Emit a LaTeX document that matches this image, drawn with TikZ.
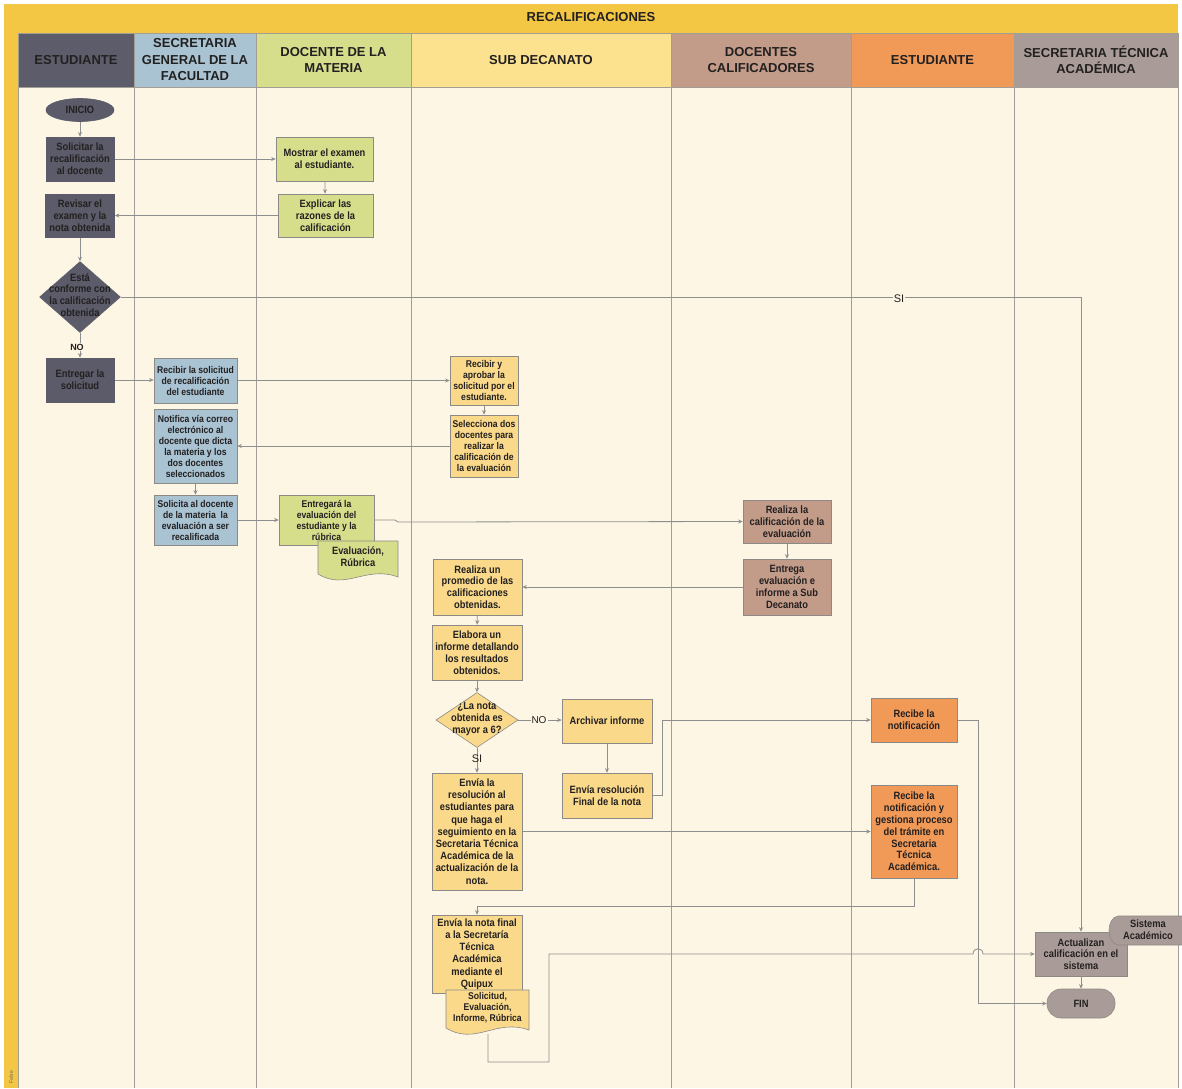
\documentclass[tikz,border=0pt]{standalone}
\usepackage{fontspec}
\setmainfont{Liberation Sans}
\newfontfamily\nfont[FakeStretch=0.88]{Liberation Sans}
\usetikzlibrary{shapes.geometric,arrows.meta,backgrounds}
\definecolor{titleY}{HTML}{F3C744}
\definecolor{estH}{HTML}{5C5C6B}
\definecolor{estN}{HTML}{5B5B69}
\definecolor{secH}{HTML}{A9C3D3}
\definecolor{docH}{HTML}{D6DE8C}
\definecolor{subH}{HTML}{FCE18F}
\definecolor{subN}{HTML}{FAD98B}
\definecolor{calH}{HTML}{C39B89}
\definecolor{estoH}{HTML}{F19A57}
\definecolor{staH}{HTML}{A99C98}
\definecolor{laneBG}{HTML}{FDF6E4}
\definecolor{lineC}{HTML}{8E8E8E}
\definecolor{sepC}{HTML}{A39E95}
\definecolor{bord}{HTML}{8C8A86}
\definecolor{txt}{HTML}{232020}
\newcommand\bx{\nfont\bfseries\fontsize{10.6}{11.8}\selectfont}
\newcommand\bxs{\nfont\bfseries\fontsize{9.8}{11}\selectfont}
\newcommand\hx{\bfseries\fontsize{13}{16.5}\selectfont}
\begin{document}
\begin{tikzpicture}[x=1pt,y=-1pt,
  proc/.style={draw=bord, line width=0.6, align=center, font=\bx, text=txt, inner sep=1pt},
  conn/.style={draw=lineC, line width=0.8, -{Stealth[length=4.5pt,width=4pt]}},
  plain/.style={draw=lineC, line width=0.8},
  hdr/.style={draw=sepC, line width=0.6, align=center, font=\hx, text=txt, inner sep=0pt, minimum height=54},
  lbl/.style={font=\fontsize{11}{12}\selectfont, text=txt, fill=laneBG, inner sep=1pt},
  dtxt/.style={align=center, font=\bx, text=txt, inner sep=0pt}]
\useasboundingbox (0,0) rectangle (1182,1088);
\begin{pgfonlayer}{background}
\fill[white] (0,0) rectangle (1182,1088);
\fill[titleY] (4,4) rectangle (1178,33);
\fill[titleY] (4,33) rectangle (18,1088);
\fill[laneBG] (18,87) rectangle (1178,1088);
\foreach \xx in {18,134,256,411,671,851,1014,1178}
  \draw[sepC, line width=0.8] (\xx,87) -- (\xx,1088);
\end{pgfonlayer}
\node[font=\bfseries\fontsize{13}{15}\selectfont, text=txt] (title) at (591,17) {RECALIFICACIONES};
\node[rotate=90, font=\fontsize{5}{5}\selectfont, text=txt!70] (fls) at (11,1077) {False};
% headers
\node[hdr, fill=estH, minimum width=116] (h1) at (76,60) {ESTUDIANTE};
\node[hdr, fill=secH, minimum width=122] (h2) at (195,60) {SECRETARIA\\GENERAL DE LA\\FACULTAD};
\node[hdr, fill=docH, minimum width=155] (h3) at (333.5,60) {DOCENTE DE LA\\MATERIA};
\node[hdr, fill=subH, minimum width=260] (h4) at (541,60) {SUB DECANATO};
\node[hdr, fill=calH, minimum width=180] (h5) at (761,60) {DOCENTES\\CALIFICADORES};
\node[hdr, fill=estoH, minimum width=163] (h6) at (932.5,60) {ESTUDIANTE};
\node[hdr, fill=staH, minimum width=164] (h7) at (1096,60) {SECRETARIA TÉCNICA\\ACADÉMICA};
% estudiante lane
\node[proc, ellipse, fill=estN, draw=estN, minimum width=68, minimum height=23, inner sep=0pt] (inicio) at (80,110) {INICIO};
\node[proc, fill=estN, draw=estN, minimum width=68, minimum height=44] (solic) at (80,159) {Solicitar la\\recalificación\\al docente};
\node[proc, fill=estN, draw=estN, minimum width=69, minimum height=43] (revis) at (80,215.5) {Revisar el\\examen y la\\nota obtenida};
\node[diamond, fill=estN, draw=estN, minimum width=81, minimum height=71, inner sep=0pt] (d1) at (80,297) {};
\node[dtxt] (d1t) at (80,295) {Está\\conforme con\\la calificación\\obtenida};
\node[proc, fill=estN, draw=estN, minimum width=68, minimum height=44] (entr) at (80,380) {Entregar la\\solicitud};
% docente de la materia
\node[proc, fill=docH, minimum width=97, minimum height=44] (most) at (324.5,159) {Mostrar el examen\\al estudiante.};
\node[proc, fill=docH, minimum width=95, minimum height=43] (expl) at (325.5,215.5) {Explicar las\\razones de la\\calificación};
% secretaria general
\node[proc, fill=secH, font=\bxs, minimum width=83, minimum height=45] (recsol) at (195.5,380.5) {Recibir la solicitud\\de recalificación\\del estudiante};
\node[proc, fill=secH, font=\bxs, minimum width=83, minimum height=74] (notif) at (195.5,446) {Notifica vía correo\\electrónico al\\docente que dicta\\la materia y los\\dos docentes\\seleccionados};
\node[proc, fill=secH, font=\bxs, minimum width=83, minimum height=50] (solic2) at (195.5,520) {Solicita al docente\\de la materia\ \ la\\evaluación a ser\\recalificada};
\node[proc, fill=docH, font=\bxs, minimum width=95, minimum height=50] (entreg) at (326.5,520) {Entregará la\\evaluación del\\estudiante y la\\rúbrica};
% document 1
\fill[docH] (318,541) -- (398,541) -- (398,577) .. controls (366,565) and (346,591) .. (318,574) -- cycle;
\draw[bord, line width=0.6] (318,541) -- (398,541) -- (398,577) .. controls (366,565) and (346,591) .. (318,574) -- cycle;
\node[dtxt, font=\bx] (doc1) at (358,557) {Evaluación,\\Rúbrica};
% sub decanato
\node[proc, fill=subN, font=\bxs, minimum width=68, minimum height=49] (recap) at (484,380.5) {Recibir y\\aprobar la\\solicitud por el\\estudiante.};
\node[proc, fill=subN, font=\bxs, minimum width=68, minimum height=62] (selec) at (484,446) {Selecciona dos\\docentes para\\realizar la\\calificación de\\la evaluación};
\node[proc, fill=subN, minimum width=89, minimum height=56] (prom) at (477.5,587) {Realiza un\\promedio de las\\calificaciones\\obtenidas.};
\node[proc, fill=subN, minimum width=90, minimum height=55] (elab) at (477,652.5) {Elabora un\\informe detallando\\los resultados\\obtenidos.};
\node[diamond, fill=subN, draw=bord, line width=0.6, minimum width=82, minimum height=55, inner sep=0pt] (d2) at (477,720) {};
\node[dtxt] (d2t) at (477,719) {¿La nota\\obtenida es\\mayor a 6?};
\node[proc, fill=subN, minimum width=90, minimum height=44] (arch) at (607,721) {Archivar informe};
\node[proc, fill=subN, minimum width=90, minimum height=45] (final) at (607,795.5) {Envía resolución\\Final de la nota};
\node[proc, fill=subN, font=\nfont\bfseries\fontsize{10.6}{12.2}\selectfont, minimum width=90, minimum height=117] (envres) at (477,831.5) {Envía la\\resolución al\\estudiantes para\\que haga el\\seguimiento en la\\Secretaria Técnica\\Académica de la\\actualización de la\\nota.};
\node[proc, fill=subN, font=\nfont\bfseries\fontsize{10.6}{12.2}\selectfont, minimum width=90, minimum height=78] (notaf) at (477,954) {Envía la nota final\\a la Secretaría\\Técnica\\Académica\\mediante el\\Quipux};
% document 2
\fill[subN] (446,990) -- (529,990) -- (529,1030) .. controls (496,1018) and (476,1046) .. (446,1028) -- cycle;
\draw[bord, line width=0.6] (446,990) -- (529,990) -- (529,1030) .. controls (496,1018) and (476,1046) .. (446,1028) -- cycle;
\node[dtxt, font=\bxs] (doc2) at (487.5,1008) {Solicitud,\\Evaluación,\\Informe, Rúbrica};
\coordinate (doc2b) at (488,1034);
% docentes calificadores
\node[proc, fill=calH, minimum width=88, minimum height=43] (realcal) at (787,521.5) {Realiza la\\calificación de la\\evaluación};
\node[proc, fill=calH, minimum width=88, minimum height=56] (entrev) at (787,587) {Entrega\\evaluación e\\informe a Sub\\Decanato};
% estudiante 2
\node[proc, fill=estoH, minimum width=86, minimum height=44] (recnot) at (914,720) {Recibe la\\notificación};
\node[proc, fill=estoH, minimum width=86, minimum height=93] (gest) at (914,831.5) {Recibe la\\notificación y\\gestiona proceso\\del trámite en\\Secretaria\\Técnica\\Académica.};
% secretaria tecnica
\node[proc, fill=staH, minimum width=92, minimum height=44] (act) at (1081,954) {Actualizan\\calificación en el\\sistema};
\node[proc, fill=staH, rounded corners=14pt, minimum width=68, minimum height=29] (fin) at (1081,1003.5) {FIN};
\fill[staH] (1182,916) -- (1118,916) .. controls (1106,918) and (1106,943) .. (1118,945) -- (1182,945) -- cycle;
\draw[bord, line width=0.6] (1182,916) -- (1118,916) .. controls (1106,918) and (1106,943) .. (1118,945) -- (1182,945);
\node[dtxt] (sis) at (1148,930) {Sistema\\Académico};
% labels
\node[font=\bfseries\fontsize{9}{10}\selectfont, text=txt, fill=laneBG, inner sep=0.5pt] (no1) at (77,347) {NO};
\node[lbl, inner sep=0.5pt] (si1) at (899,299) {SI};
\node[lbl, font=\fontsize{10}{11}\selectfont] (no2) at (539,720) {NO};
\node[lbl, fill=none] (si2) at (477,759) {SI};
% connectors
\begin{pgfonlayer}{background}
\draw[conn] (inicio) -- (solic);
\draw[conn] (solic.east) -- (solic.east -| most.west);
\draw[conn] (most) -- (expl);
\draw[conn] (expl.west) -- (expl.west -| revis.east);
\draw[conn] (revis) -- (d1);
\draw[conn] (d1.south) -- (entr.north);
\draw[conn] (d1.east) -| (act.north);
\draw[conn] (entr.east) -- (entr.east -| recsol.west);
\draw[conn] (recsol.east) -- (recsol.east -| recap.west);
\draw[conn] (recap) -- (selec);
\draw[conn] (selec.west) -- (selec.west -| notif.east);
\draw[conn] (notif) -- (solic2);
\draw[conn] (solic2.east) -- (solic2.east -| entreg.west);
\draw[conn] (entreg.east) -- (395,520) -- (398,522) -- (realcal.west);
\draw[conn] (realcal) -- (entrev);
\draw[conn] (entrev.west) -- (entrev.west -| prom.east);
\draw[conn] (prom) -- (elab);
\draw[conn] (elab) -- (d2);
\draw[conn] (d2.east) -- (d2.east -| arch.west);
\draw[conn] (d2.south) -- (envres.north);
\draw[conn] (arch) -- (final);
\draw[conn] (final.east) -- (662,795.5) -- (662,720) -- (recnot.west);
\draw[conn] (envres.east) -- (envres.east -| gest.west);
\draw[conn] (recnot.east) -- (978,720) |- (fin.west);
\draw[conn] (gest.south) -- (914,906) -| (notaf.north);
\draw[conn] (doc2b) -- (488,1062) -- (549,1062) -- (549,954) -- (973,954) .. controls (973,947) and (983,947) .. (983,954) -- (act.west);
\draw[conn] (act) -- (fin);
\end{pgfonlayer}
\end{tikzpicture}
\end{document}
